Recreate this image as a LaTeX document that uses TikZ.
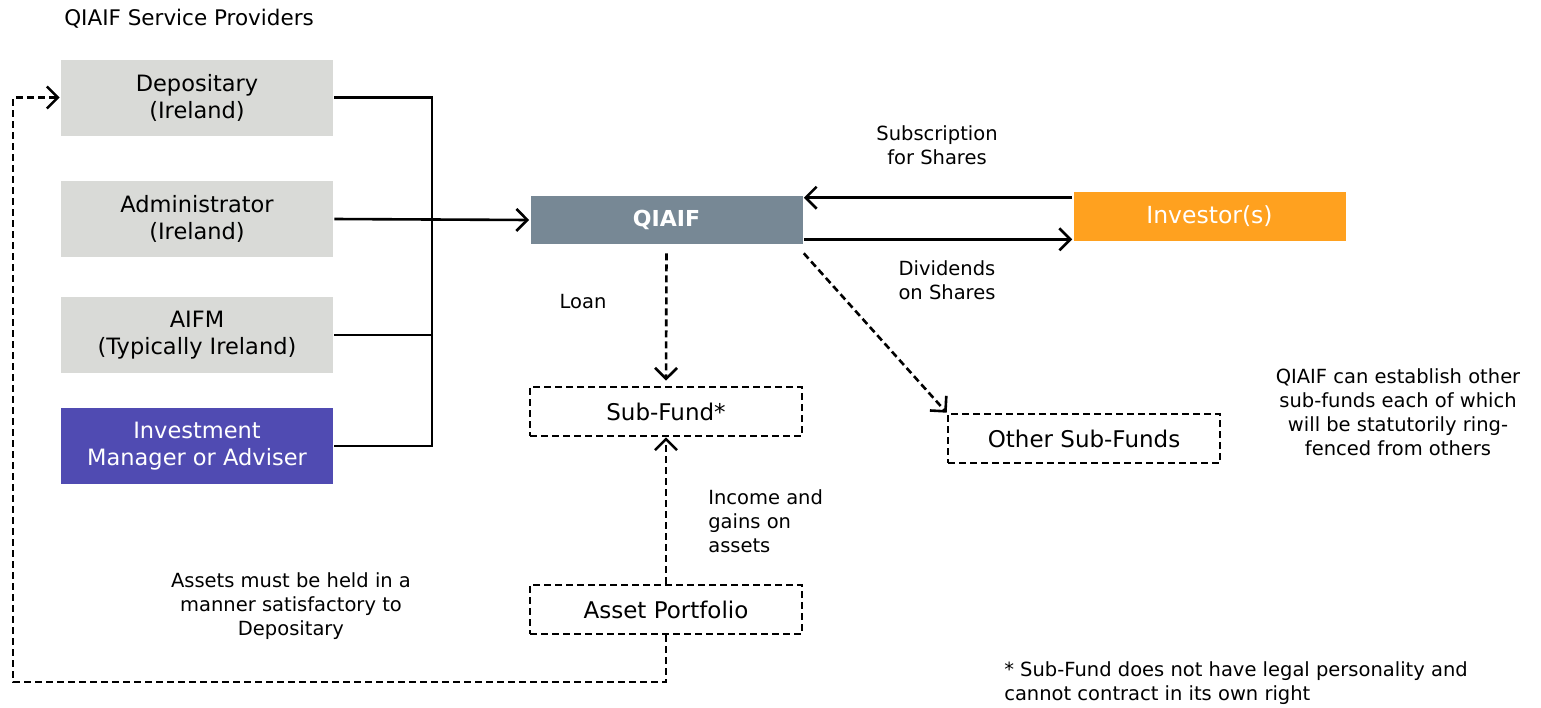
\documentclass[tikz,border=0pt]{standalone}
\usepackage{fontspec}
\setmainfont{DejaVu Sans}
\usetikzlibrary{arrows.meta}
\definecolor{provgray}{HTML}{D9DAD7}
\definecolor{mgrblue}{HTML}{504BB2}
\definecolor{fundgray}{HTML}{778895}
\definecolor{invorange}{HTML}{FFA11F}
\begin{document}
\begin{tikzpicture}[x=1pt,y=-1pt,line width=2.6pt,
  arr/.style={-{Straight Barb[length=11pt,width=22pt,line width=2.6pt]}},
  darr/.style={arr,dash pattern=on 7pt off 4pt},
  box/.style={rectangle,inner sep=0pt,minimum width=272pt,align=center},
  provider/.style={box,fill=provgray,minimum height=76pt,font=\fontsize{22.5}{27}\selectfont},
  dbox/.style={box,draw,dash pattern=on 7pt off 4pt,minimum height=49pt,font=\fontsize{23}{27}\selectfont},
  note/.style={align=center,inner sep=0pt,font=\fontsize{19.5}{24}\selectfont}]
\useasboundingbox (0,0) rectangle (1541,707);
% service providers on the left
\node[anchor=west,inner sep=0pt,font=\fontsize{21.5}{26}\selectfont] (title) at (63,19) {QIAIF Service Providers};
\node[provider] (dep) at (197,97.5) {Depositary\\(Ireland)};
\node[provider] (adm) at (197,219) {Administrator\\(Ireland)};
\node[provider] (aifm) at (197,335) {AIFM\\(Typically Ireland)};
\node[provider,fill=mgrblue,text=white] (mgr) at (197,446) {Investment\\Manager or Adviser};
% fund and investors
\node[box,fill=fundgray,text=white,minimum height=48pt,font=\fontsize{22}{26}\bfseries] (qiaif) at (666.5,220) {QIAIF};
\node[box,fill=invorange,text=white,minimum height=49pt,font=\fontsize{23.5}{27}\selectfont] (inv) at (1209.5,216.5) {Investor(s)};
\node[dbox] (sub) at (666,411.5) {Sub-Fund*};
\node[dbox] (other) at (1084,438.5) {Other Sub-Funds};
\node[dbox] (asset) at (666,609.5) {Asset Portfolio};
% labels
\node[note] (subs) at (937,145) {Subscription\\for Shares};
\node[note] (divs) at (947,280) {Dividends\\on Shares};
\node[note] (loan) at (583,302) {Loan};
\node[note,align=left,anchor=west] (income) at (707,521) {Income and\\gains on\\assets};
\node[note] (held) at (291,606) {Assets must be held in a\\manner satisfactory to\\Depositary};
\node[note] (ring) at (1398,412.5) {QIAIF can establish other\\sub-funds each of which\\will be statutorily ring-\\fenced from others};
\node[note,align=left,anchor=west] (foot) at (1003,683) {* Sub-Fund does not have legal personality and\\cannot contract in its own right};
% bracket joining the providers
\coordinate (bus) at (432,219);
\draw (dep.east) -| (bus);
\draw (mgr.east) -| (bus);
\draw (aifm.east) -- (aifm.east -| bus);
\draw[arr] (adm.east) -- (qiaif.west);
% shares in, dividends out
\path ([yshift=-3pt]qiaif.north east) coordinate (subin)
      ([yshift=6pt]qiaif.south east) coordinate (divout);
\draw[arr] (subin -| inv.west) -- (subin);
\draw[arr] (divout) -- (divout -| inv.west);
% dashed flows
\draw[darr] ([yshift=-8pt]qiaif.south) -- ([yshift=5pt]sub.north);
\draw[darr] ([yshift=-8pt]qiaif.south east) -- (other.north west);
\draw[darr] (asset.north) -- (sub.south);
\coordinate (corner) at (13,682);
\draw[darr] (asset.south) |- (corner) |- (dep.west);
\end{tikzpicture}
\end{document}
